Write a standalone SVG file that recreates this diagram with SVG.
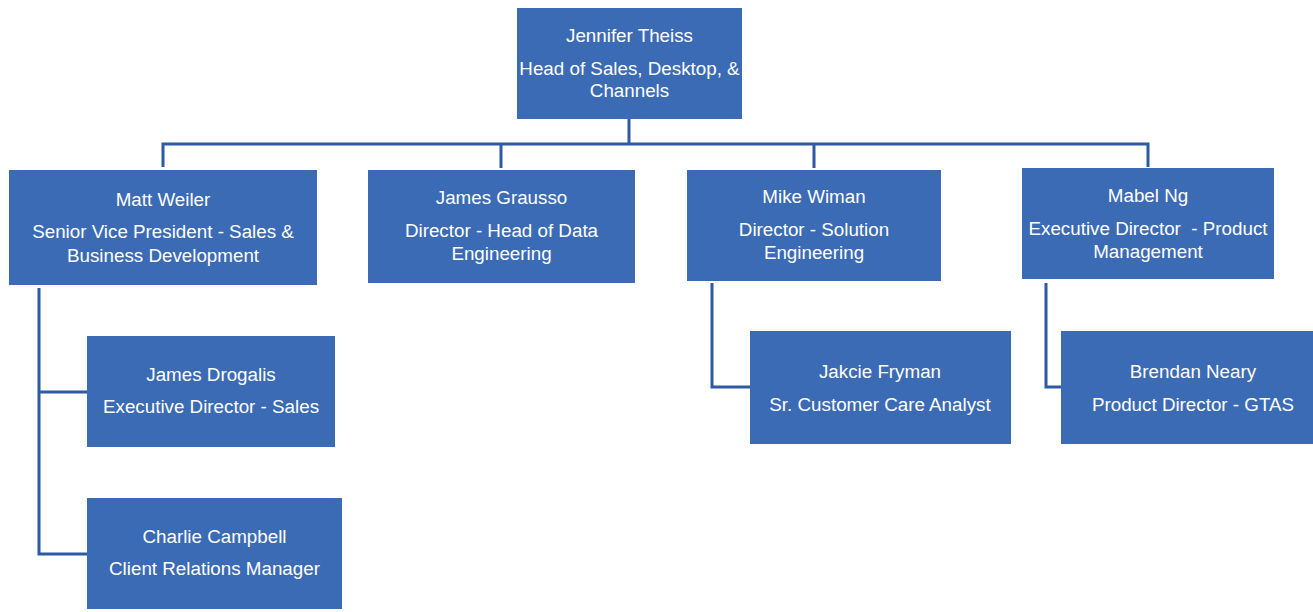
<svg xmlns="http://www.w3.org/2000/svg" width="1313" height="612" viewBox="0 0 1313 612">
<style>
.box{fill:#3B6BB4}
.t{font-family:"Liberation Sans",Arial,sans-serif;font-size:18.8px;fill:#FFFFFF;text-anchor:middle}
.c{fill:none;stroke:#2C5AA3;stroke-width:3;stroke-linejoin:miter;stroke-linecap:butt}
</style>
<rect width="1313" height="612" fill="#FFFFFF"/>
<g id="connectors">
<path class="c" d="M629,119 V144"/>
<path class="c" d="M163,167 V144 H1148 V167"/>
<path class="c" d="M501,144 V168"/>
<path class="c" d="M814,144 V168"/>
<path class="c" d="M39,288 V554 H87"/>
<path class="c" d="M39,392 H87"/>
<path class="c" d="M712,283 V387 H750"/>
<path class="c" d="M1046,283 V387 H1061"/>
</g>
<g id="jennifer">
<rect class="box" x="517" y="8" width="225" height="111"/>
<text class="t" x="629.5" y="42">Jennifer Theiss</text>
<text class="t" x="629.5" y="75">Head of Sales, Desktop, &amp;</text>
<text class="t" x="629.5" y="97">Channels</text>
</g>
<g id="matt">
<rect class="box" x="9" y="170" width="308" height="115"/>
<text class="t" x="163" y="206">Matt Weiler</text>
<text class="t" x="163" y="238">Senior Vice President - Sales &amp;</text>
<text class="t" x="163" y="262">Business Development</text>
</g>
<g id="grausso">
<rect class="box" x="368" y="170" width="267" height="113"/>
<text class="t" x="501.5" y="204">James Grausso</text>
<text class="t" x="501.5" y="237">Director - Head of Data</text>
<text class="t" x="501.5" y="260">Engineering</text>
</g>
<g id="wiman">
<rect class="box" x="687" y="170" width="254" height="111"/>
<text class="t" x="814" y="203">Mike Wiman</text>
<text class="t" x="814" y="236">Director - Solution</text>
<text class="t" x="814" y="259">Engineering</text>
</g>
<g id="ng">
<rect class="box" x="1022" y="168" width="252" height="111"/>
<text class="t" x="1148" y="202">Mabel Ng</text>
<text class="t" x="1148" y="235" xml:space="preserve">Executive Director  - Product</text>
<text class="t" x="1148" y="258">Management</text>
</g>
<g id="drogalis">
<rect class="box" x="87" y="336" width="248" height="111"/>
<text class="t" x="211" y="381">James Drogalis</text>
<text class="t" x="211" y="413">Executive Director - Sales</text>
</g>
<g id="campbell">
<rect class="box" x="87" y="498" width="255" height="111"/>
<text class="t" x="214.5" y="543">Charlie Campbell</text>
<text class="t" x="214.5" y="575">Client Relations Manager</text>
</g>
<g id="fryman">
<rect class="box" x="750" y="331" width="261" height="113"/>
<text class="t" x="880" y="378">Jakcie Fryman</text>
<text class="t" x="880" y="411">Sr. Customer Care Analyst</text>
</g>
<g id="neary">
<rect class="box" x="1061" y="331" width="252" height="113"/>
<text class="t" x="1193" y="378">Brendan Neary</text>
<text class="t" x="1193" y="411">Product Director - GTAS</text>
</g>
</svg>
